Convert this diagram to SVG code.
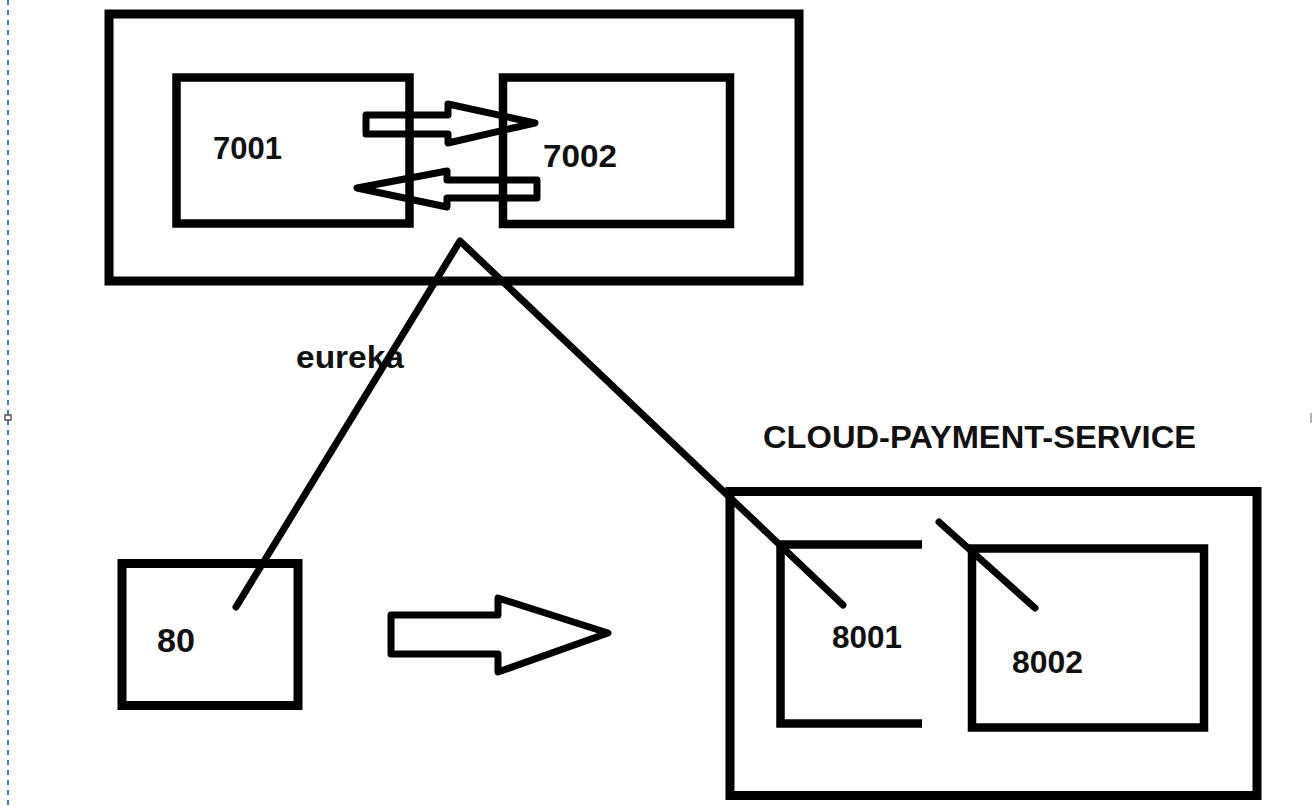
<svg xmlns="http://www.w3.org/2000/svg" width="1312" height="806" viewBox="0 0 1312 806">
  <style>
    .box { fill: none; stroke: #000; stroke-width: 9; stroke-linejoin: miter; }
    .inner { fill: none; stroke: #000; stroke-width: 8.5; }
    .wire { fill: none; stroke: #000; stroke-width: 7; stroke-linecap: round; stroke-linejoin: round; }
    .hollow { fill: #fff; stroke: #000; stroke-width: 7; stroke-linejoin: round; }
    .lbl { font-family: "Liberation Sans", Arial, sans-serif; font-weight: bold; fill: #111; }
  </style>
  <rect width="1312" height="806" fill="#fff"/>

  <!-- page guide on the left edge -->
  <g id="guide">
    <line x1="8" y1="0" x2="8" y2="806" stroke="#3a7fc4" stroke-width="2" stroke-dasharray="5 5"/>
    <rect x="5" y="415" width="6" height="5" fill="#fff" stroke="#555" stroke-width="1.5"/>
    <line x1="1311" y1="413" x2="1311" y2="423" stroke="#999" stroke-width="1.5"/>
  </g>

  <!-- eureka cluster -->
  <g id="eureka-cluster">
    <rect class="box" x="109" y="14" width="690" height="267"/>
  </g>
  <g id="node-7001">
    <rect class="inner" x="176.5" y="77.5" width="233" height="146"/>
    <text class="lbl" x="213" y="159" font-size="31" textLength="69" lengthAdjust="spacingAndGlyphs">7001</text>
  </g>
  <g id="node-7002">
    <rect class="inner" x="503" y="77.5" width="227" height="146.5"/>
    <text class="lbl" x="543" y="167" font-size="31" textLength="74" lengthAdjust="spacingAndGlyphs">7002</text>
  </g>

  <!-- eureka label -->
  <g id="label-eureka">
    <text class="lbl" x="296" y="368" font-size="31" textLength="108" lengthAdjust="spacingAndGlyphs">eureka</text>
  </g>

  <!-- consumer -->
  <g id="node-80">
    <rect class="box" x="122" y="563.5" width="176" height="142"/>
    <text class="lbl" x="157" y="652" font-size="33" textLength="38" lengthAdjust="spacingAndGlyphs">80</text>
  </g>

  <!-- payment service cluster -->
  <g id="payment-cluster">
    <rect class="box" x="730" y="491.5" width="527" height="304"/>
    <text class="lbl" x="763" y="448" font-size="31" textLength="433" lengthAdjust="spacingAndGlyphs">CLOUD-PAYMENT-SERVICE</text>
  </g>
  <g id="node-8001">
    <path class="inner" d="M922 544.5 H780.5 V723.5 H922"/>
    <text class="lbl" x="832" y="648" font-size="31" textLength="70" lengthAdjust="spacingAndGlyphs">8001</text>
  </g>
  <g id="node-8002">
    <rect class="inner" x="972" y="548.5" width="232" height="179"/>
    <text class="lbl" x="1012" y="673" font-size="31" textLength="71" lengthAdjust="spacingAndGlyphs">8002</text>
  </g>

  <!-- connectors -->
  <g id="connectors">
    <!-- replication between 7001 and 7002 -->
    <path class="hollow" d="M366 115 H448 V104 L535 123 L448 143 V134 H366 Z" fill-opacity="0"/>
    <path class="hollow" d="M537 180 H447 V171 L357 188 L447 207 V198 H537 Z" fill-opacity="0"/>
    <!-- registration lines -->
    <polyline class="wire" points="236,607 460,241 843,605"/>
    <line class="wire" x1="939" y1="522" x2="1035" y2="608"/>
    <!-- call from 80 to the payment service -->
    <path class="hollow" d="M391 615 H498 V598 L608 633 L498 672 V654 H391 Z"/>
  </g>
</svg>
